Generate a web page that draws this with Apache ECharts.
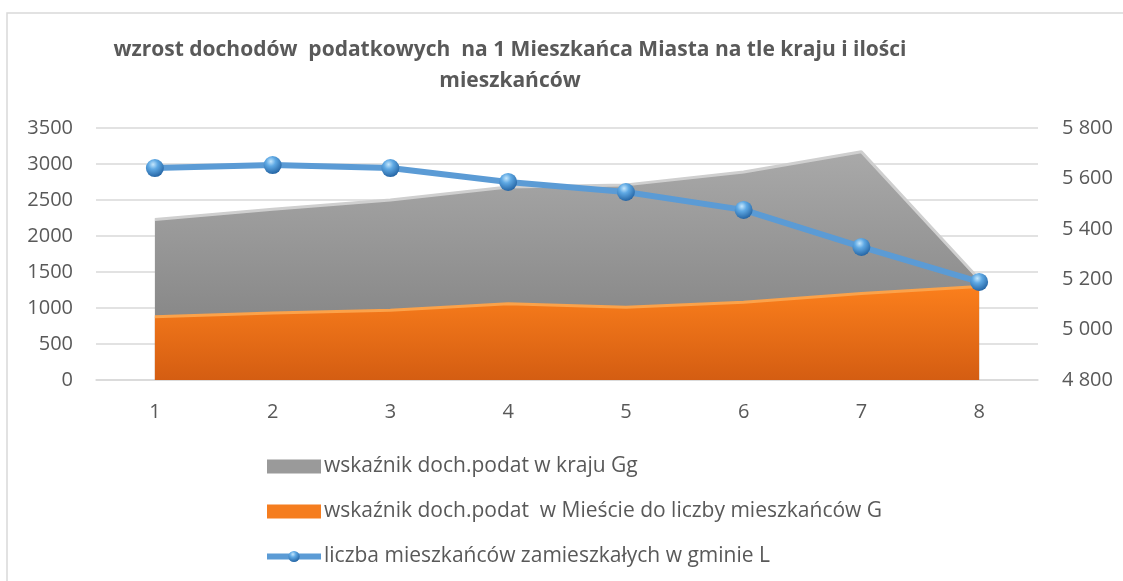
<!DOCTYPE html>
<html>
<head>
<meta charset="utf-8">
<script src="https://cdn.jsdelivr.net/npm/echarts@6/dist/echarts.min.js"></script>
<style>
html,body{margin:0;padding:0;background:#fff;}
#chart{width:1123px;height:581px;}
</style>
</head>
<body>
<div id="chart"></div>
<script>
var categories = ['1','2','3','4','5','6','7','8'];
var krajValues = [2230, 2370, 2500, 2680, 2710, 2890, 3170, 1400];
var miastoValues = [880, 930, 970, 1060, 1010, 1080, 1200, 1300];
var ludnoscValues = [5641, 5653, 5641, 5586, 5546, 5475, 5328, 5189];
var seriesNames = [
  'wskaźnik doch.podat w kraju Gg',
  'wskaźnik doch.podat  w Mieście do liczby mieszkańców G',
  'liczba mieszkańców zamieszkałych w gminie L'
];
var titleText = 'wzrost dochodów  podatkowych  na 1 Mieszkańca Miasta na tle kraju i ilości\nmieszkańców';

var txt = '#595959';
var font = 'Open Sans';
var chart = echarts.init(document.getElementById('chart'));
chart.setOption({
  backgroundColor: '#ffffff',
  animation: false,
  textStyle: {fontFamily: font},
  title: {
    text: titleText,
    left: 505,
    top: 30,
    textAlign: 'center',
    textStyle: {fontFamily: font, fontWeight: 'bold', fontSize: 21, color: txt, lineHeight: 31}
  },
  graphic: [{
    type: 'rect', shape: {x: 7, y: 13, width: 1200, height: 700},
    style: {fill: 'none', stroke: '#d9d9d9', lineWidth: 1.5}, silent: true, z: -1
  }],
  legend: {
    orient: 'vertical',
    left: 259,
    top: 451,
    itemWidth: 54,
    itemHeight: 14,
    itemGap: 24,
    textStyle: {fontFamily: font, fontSize: 21, color: txt, padding: [0,0,0,-2]},
    data: [
      {name: seriesNames[0], icon: 'rect'},
      {name: seriesNames[1], icon: 'rect'},
      {name: seriesNames[2], lineStyle: {width: 6, color: '#5b9bd5'}}
    ]
  },
  grid: {left: 96, right: 85, top: 128, bottom: 201, containLabel: false},
  xAxis: {
    type: 'category',
    data: categories,
    boundaryGap: true,
    axisLine: {lineStyle: {color: '#d9d9d9', width: 1.5}},
    axisTick: {show: false},
    axisLabel: {color: txt, fontSize: 20, margin: 22, fontFamily: font}
  },
  yAxis: [{
    type: 'value', min: 0, max: 3500, interval: 500,
    axisLine: {show: false}, axisTick: {show: false},
    splitLine: {lineStyle: {color: '#d9d9d9', width: 1.5}},
    axisLabel: {color: txt, fontSize: 20, margin: 23, fontFamily: font,
      formatter: function (v) { return String(v); }}
  }, {
    type: 'value', min: 4800, max: 5800, interval: 200, position: 'right',
    axisLine: {show: false}, axisTick: {show: false}, splitLine: {show: false},
    axisLabel: {color: txt, fontSize: 20, margin: 24, fontFamily: font,
      formatter: function (v) { return String(v).replace(/\B(?=(\d{3})+(?!\d))/g, ' '); }}
  }],
  series: [{
    name: seriesNames[0],
    type: 'line',
    data: krajValues,
    yAxisIndex: 0,
    symbol: 'none',
    lineStyle: {color: '#cfcfcf', width: 3},
    itemStyle: {color: '#9a9a9a'},
    areaStyle: {opacity: 1, color: {type: 'linear', x: 0, y: 0, x2: 0, y2: 1, colorStops: [
      {offset: 0, color: '#a9a9a9'}, {offset: 1, color: '#7c7c7c'}]}},
    z: 1
  }, {
    name: seriesNames[1],
    type: 'line',
    data: miastoValues,
    yAxisIndex: 0,
    symbol: 'none',
    lineStyle: {color: '#fba24a', width: 3},
    itemStyle: {color: '#f57d1f'},
    areaStyle: {opacity: 1, color: {type: 'linear', x: 0, y: 0, x2: 0, y2: 1, colorStops: [
      {offset: 0, color: '#fb7f1c'}, {offset: 1, color: '#d45d12'}]}},
    z: 2
  }, {
    name: seriesNames[2],
    type: 'line',
    data: ludnoscValues,
    yAxisIndex: 1,
    symbol: 'circle',
    symbolSize: 18,
    lineStyle: {color: '#5b9bd5', width: 6},
    itemStyle: {color: {type: 'radial', x: 0.4, y: 0.3, r: 0.75, colorStops: [
      {offset: 0, color: '#c4e6fc'}, {offset: 0.35, color: '#5fa9e4'}, {offset: 1, color: '#1f5e9e'}]},
      borderWidth: 0},
    z: 3
  }]
});
</script>
</body>
</html>
